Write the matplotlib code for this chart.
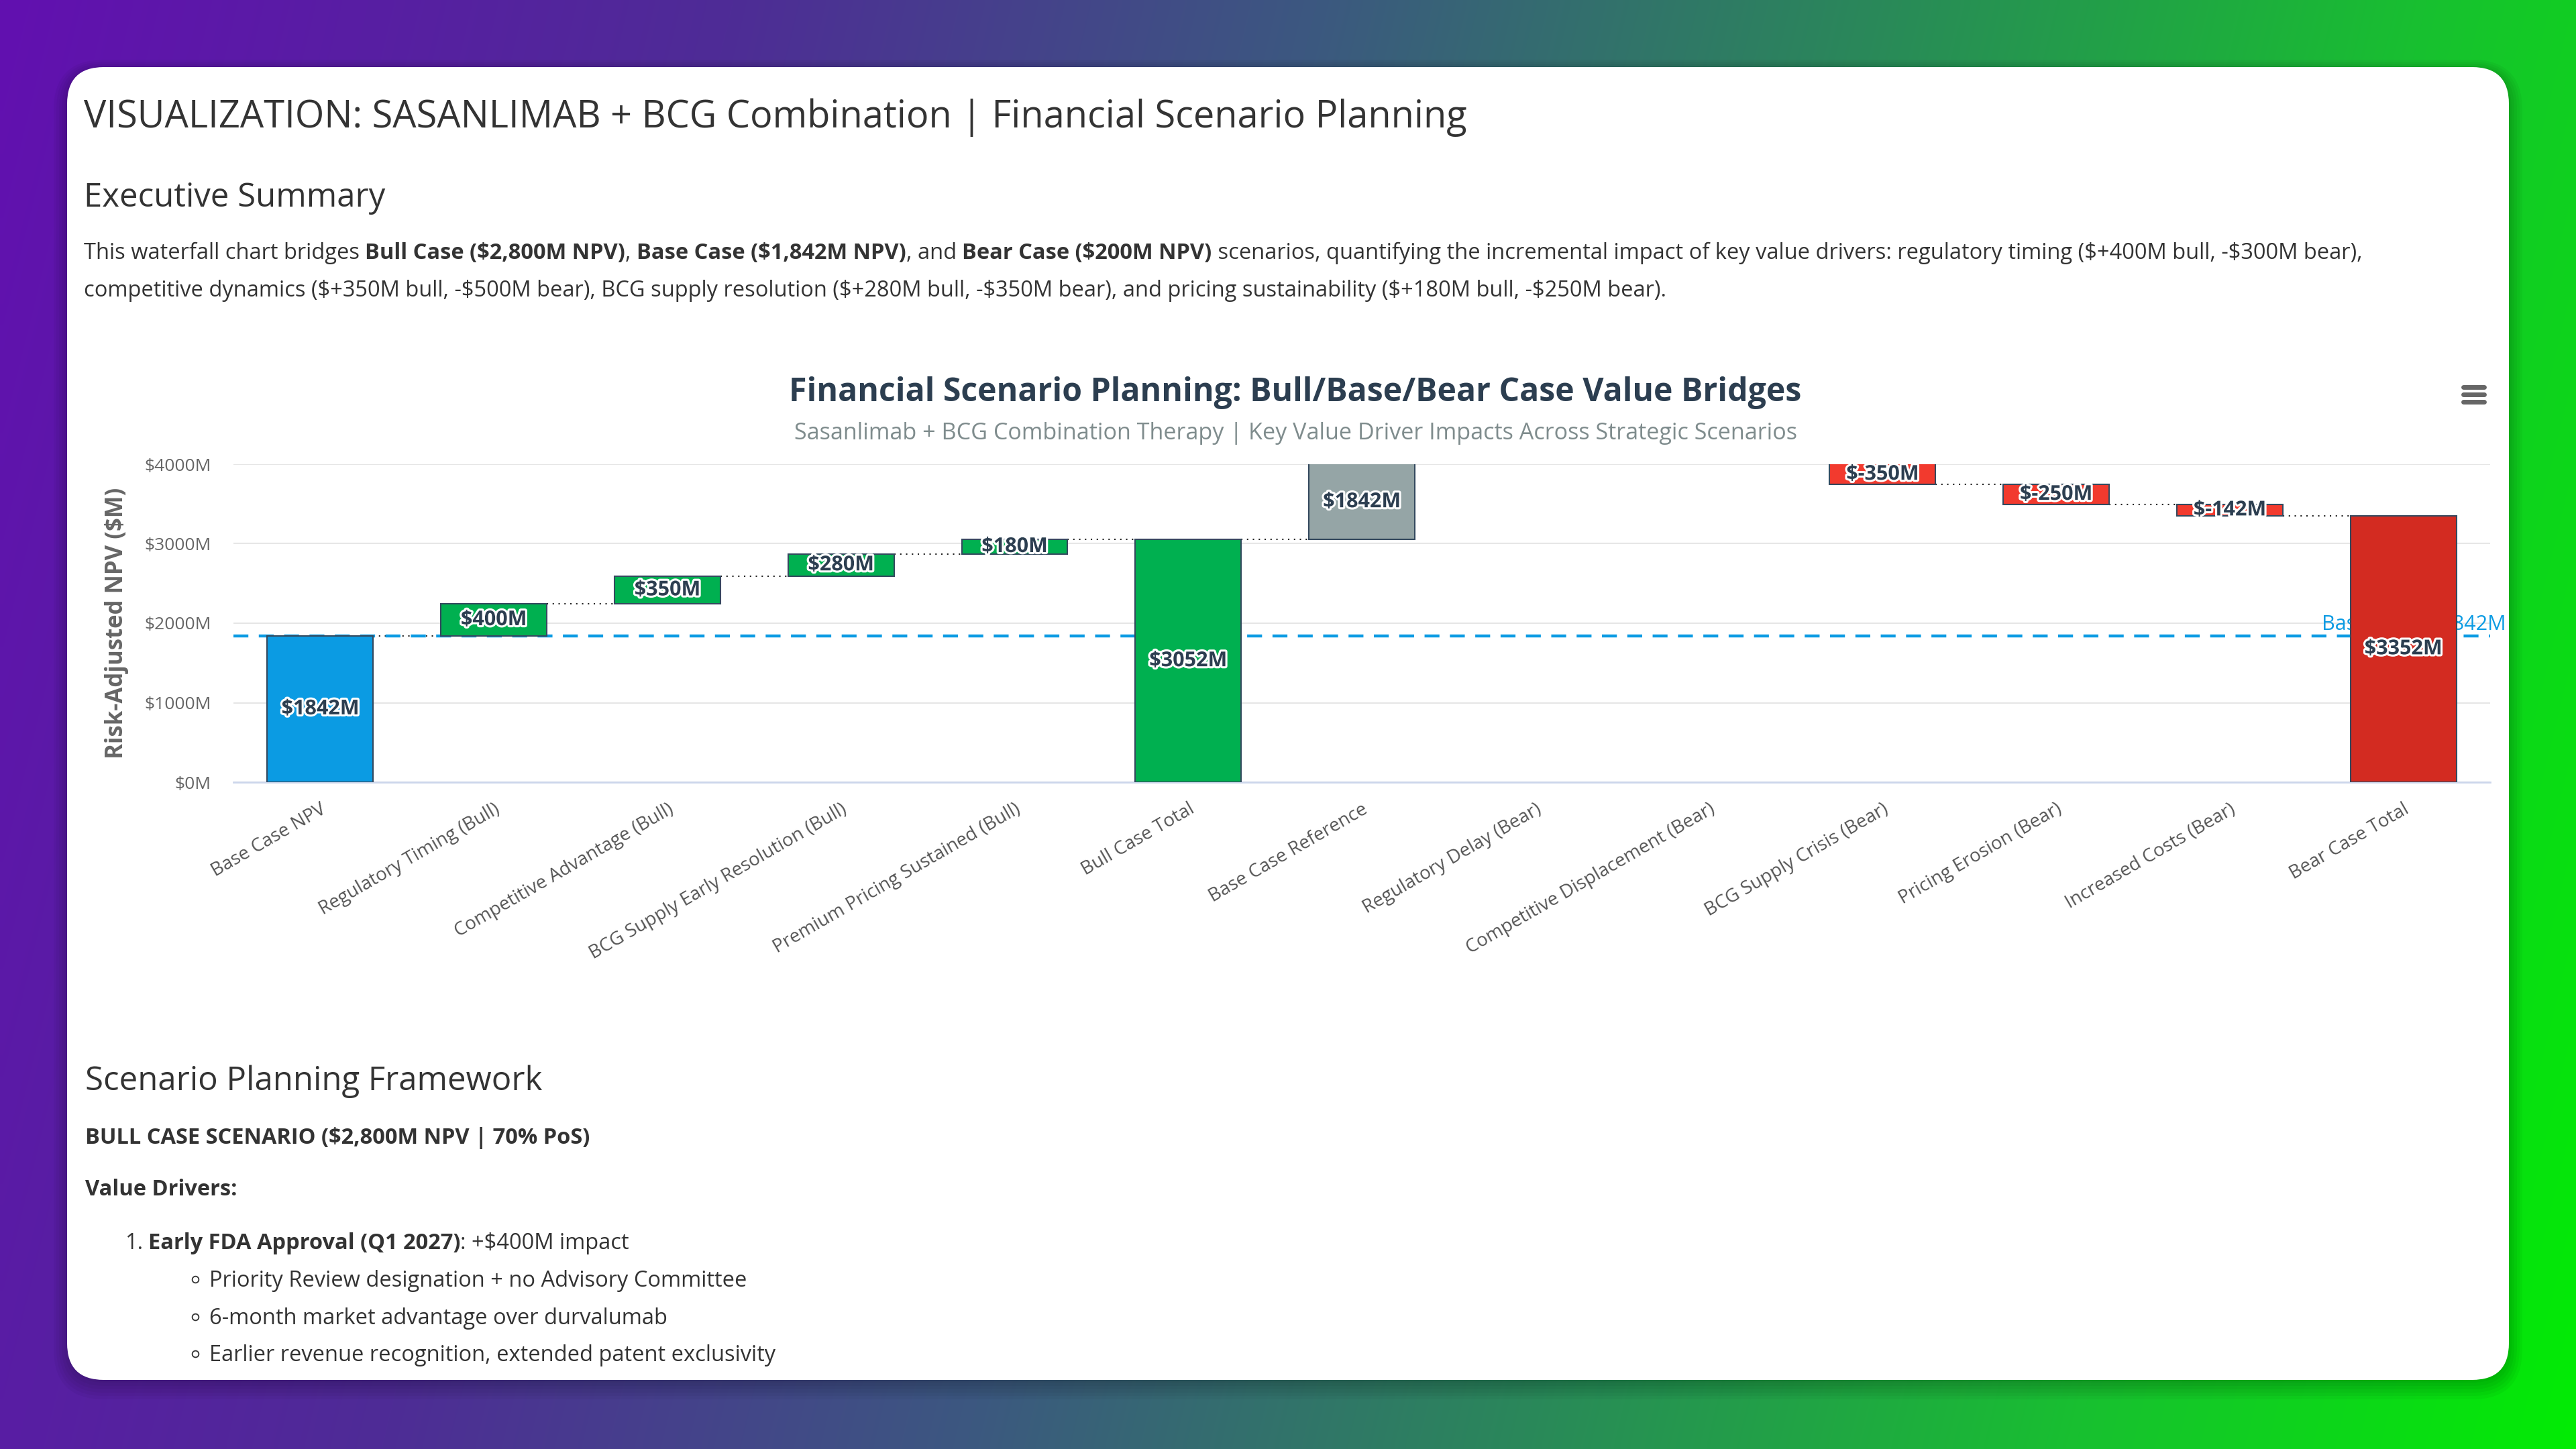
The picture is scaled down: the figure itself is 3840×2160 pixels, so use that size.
import numpy as np
import matplotlib
matplotlib.use('Agg')
import matplotlib.pyplot as plt
from matplotlib.patches import FancyBboxPatch
from matplotlib.font_manager import FontProperties
import matplotlib.patheffects as pe

# ---- chart data ----
categories = ['Base Case NPV', 'Regulatory Timing (Bull)', 'Competitive Advantage (Bull)',
              'BCG Supply Early Resolution (Bull)', 'Premium Pricing Sustained (Bull)',
              'Bull Case Total', 'Base Case Reference', 'Regulatory Delay (Bear)',
              'Competitive Displacement (Bear)', 'BCG Supply Crisis (Bear)',
              'Pricing Erosion (Bear)', 'Increased Costs (Bear)', 'Bear Case Total']
step_values = [1842, 400, 350, 280, 180, None, 1842, -300, -500, -350, -250, -142, None]
base_case = 1842
y_ticks = [0, 1000, 2000, 3000, 4000]
y_tick_labels = ['$0M', '$1000M', '$2000M', '$3000M', '$4000M']
y_max = 4000

bar_colors = ['#0b9be3', '#00b050', '#00b050', '#00b050', '#00b050', '#00b050', '#95a5a6',
              '#f23a2e', '#f23a2e', '#f23a2e', '#f23a2e', '#f23a2e', '#d32b21']

FONT = 'Open Sans'
TXT = '#333333'

fig = plt.figure(figsize=(38.4, 21.6), dpi=100)
bg = fig.add_axes([0, 0, 1, 1])

# ---- background gradient ----
W, H = 384, 216
xx, yy = np.meshgrid(np.linspace(0, 1, W), np.linspace(0, 1, H))
t = 0.88 * xx + 0.12 * yy
stops = [0.0, 0.25, 0.45, 0.64, 0.83, 1.0]
cols = np.array([(98, 16, 176), (78, 44, 150), (60, 88, 128), (42, 136, 90), (24, 192, 48), (2, 236, 4)]) / 255
img = np.dstack([np.interp(t, stops, cols[:, k]) for k in range(3)])
bg.imshow(img, extent=[0, 3840, 2160, 0], aspect='auto', interpolation='bilinear', zorder=0)
bg.set_xlim(0, 3840)
bg.set_ylim(2160, 0)
bg.axis('off')

# card with soft shadow
for k in range(6):
    bg.add_patch(FancyBboxPatch((100 - k * 4, 104 - k * 3), 3640 + k * 8, 1957 + k * 8,
                                boxstyle='round,pad=0,rounding_size=%d' % (55 + k * 4),
                                fc='black', ec='none', alpha=0.035, zorder=1))
bg.add_patch(FancyBboxPatch((100, 100), 3640, 1957, boxstyle='round,pad=0,rounding_size=55',
                            fc='white', ec='none', zorder=2))

renderer = fig.canvas.get_renderer()


def tw(s, size, weight='normal'):
    fp = FontProperties(family=FONT, size=size, weight=weight)
    w1 = renderer.get_text_width_height_descent('x' + s + 'x', fp, ismath=False)[0]
    w0 = renderer.get_text_width_height_descent('xx', fp, ismath=False)[0]
    return w1 - w0


def runs_width(runs, size):
    return sum(tw(s, size, 'bold' if b else 'normal') for s, b in runs)


def fit(runs, target, size0=20):
    return size0 * target / runs_width(runs, size0)


def draw_runs(x, y, runs, size, color=TXT):
    for s, b in runs:
        w = 'bold' if b else 'normal'
        bg.text(x, y, s, fontsize=size, fontweight=w, family=FONT, color=color,
                ha='left', va='baseline', parse_math=False, zorder=5)
        x += tw(s, size, w)


# ---- page text ----
title = [('VISUALIZATION: SASANLIMAB + BCG Combination | Financial Scenario Planning', False)]
draw_runs(125, 190, title, fit(title, 2058))

h2 = fit([('Executive Summary', False)], 448)
draw_runs(125, 308, [('Executive Summary', False)], h2)

line1 = [('This waterfall chart bridges ', False), ('Bull Case ($2,800M NPV)', True), (', ', False),
         ('Base Case ($1,842M NPV)', True), (', and ', False), ('Bear Case ($200M NPV)', True),
         (' scenarios, quantifying the incremental impact of key value drivers: regulatory timing '
          '($+400M bull, -$300M bear),', False)]
line2 = [('competitive dynamics ($+350M bull, -$500M bear), BCG supply resolution ($+280M bull, '
          '-$350M bear), and pricing sustainability ($+180M bull, -$250M bear).', False)]
body = fit(line1, 3394)
draw_runs(125, 386, line1, body)
draw_runs(125, 442, line2, body)

draw_runs(127, 1625, [('Scenario Planning Framework', False)], h2)
draw_runs(127, 1705, [('BULL CASE SCENARIO ($2,800M NPV | 70% PoS)', True)], body)
draw_runs(127, 1782, [('Value Drivers:', True)], body)
draw_runs(186, 1862, [('1.', False)], body)
draw_runs(221, 1862, [('Early FDA Approval (Q1 2027)', True), (': +$400M impact', False)], body)
bullets = ['Priority Review designation + no Advisory Committee',
           '6-month market advantage over durvalumab',
           'Earlier revenue recognition, extended patent exclusivity']
for k, s in enumerate(bullets):
    yb = 1918 + k * 55.5
    bg.plot([291], [yb - 11], marker='o', ms=7, mfc='none', mec=TXT, mew=1.3, zorder=5)
    draw_runs(312, yb, [(s, False)], body)

# chart title / subtitle
ct = [('Financial Scenario Planning: Bull/Base/Bear Case Value Bridges', True)]
cs = fit(ct, 1511)
bg.text(1931, 598, ct[0][0], fontsize=cs, fontweight='bold', family=FONT, color='#2c3e50',
        ha='center', va='baseline', parse_math=False, zorder=5)
st = [('Sasanlimab + BCG Combination Therapy | Key Value Driver Impacts Across Strategic Scenarios', False)]
ss = fit(st, 1492)
bg.text(1931, 655, st[0][0], fontsize=ss, family=FONT, color='#7f8c8d',
        ha='center', va='baseline', parse_math=False, zorder=5)

# hamburger menu
for yy_ in (577, 588, 599):
    bg.plot([3672, 3703], [yy_, yy_], color='#666666', lw=5, solid_capstyle='round', zorder=5)

# y axis title
yl = 'Risk-Adjusted NPV ($M)'
bg.text(174, 929, yl, rotation=90, fontsize=fit([(yl, True)], 404), fontweight='bold', family=FONT,
        color='#666666', ha='center', va='center', parse_math=False, zorder=5)

# ---- waterfall chart ----
ax = fig.add_axes([348 / 3840, 1 - 1166 / 2160, 3364 / 3840, 474 / 2160])
ax.set_facecolor('none')

bottoms, heights, label_vals, levels = [], [], [], []
running = 0
for v in step_values:
    if v is None:
        lo, hi = 0, running
        label_vals.append(running)
    else:
        lo, hi = min(running, running + v), max(running, running + v)
        running += v
        label_vals.append(v)
    bottoms.append(lo)
    heights.append(hi - lo)
    levels.append(running)

x = np.arange(len(categories))
bw = 0.61
ax.bar(x, heights, bottom=bottoms, width=bw, color=bar_colors, edgecolor='#34495e',
       linewidth=1.5, zorder=3)

# connectors
for i in range(len(categories) - 1):
    ax.plot([x[i] + bw / 2, x[i + 1] - bw / 2], [levels[i], levels[i]], color='#222222',
            lw=1.5, ls=(0, (1, 3.2)), zorder=2)

# data labels (centre of visible part)
for i in range(len(categories)):
    lo = max(bottoms[i], 0)
    hi = min(bottoms[i] + heights[i], y_max)
    if hi > lo:
        ax.text(x[i], (lo + hi) / 2, '$%dM' % label_vals[i], ha='center', va='center',
                fontsize=22, fontweight='bold', family=FONT, color='#2c3e50', parse_math=False,
                zorder=4, path_effects=[pe.withStroke(linewidth=4.5, foreground='white')])

# base case line
ax.axhline(base_case, color='#0b9be3', lw=3.2, ls=(0, (5, 3.5)), zorder=2.5)
ax.text(1.007, base_case + 20, 'Base Case: $%dM' % base_case, transform=ax.get_yaxis_transform(),
        ha='right', va='bottom', fontsize=22, family=FONT, color='#0b9be3', clip_on=False,
        parse_math=False, zorder=1)

ax.set_xlim(-0.5, len(categories) - 0.5)
ax.set_ylim(0, y_max)
ax.set_yticks(y_ticks)
ax.set_yticklabels(y_tick_labels, fontsize=19, family=FONT, color='#666666')
ax.set_xticks(x)
ax.set_xticklabels(categories, fontsize=20, family=FONT, color='#555555', rotation=30,
                   ha='right', rotation_mode='anchor')
ax.tick_params(axis='both', length=0)
ax.tick_params(axis='y', pad=24)
ax.tick_params(axis='x', pad=19)
ax.yaxis.grid(True, color='#e6e6e6', lw=1.5)
ax.set_axisbelow(True)
for s in ('left', 'top', 'right'):
    ax.spines[s].set_visible(False)
ax.spines['bottom'].set_color('#ccd6eb')
ax.spines['bottom'].set_linewidth(2)

fig.savefig('out.png', dpi=100)
